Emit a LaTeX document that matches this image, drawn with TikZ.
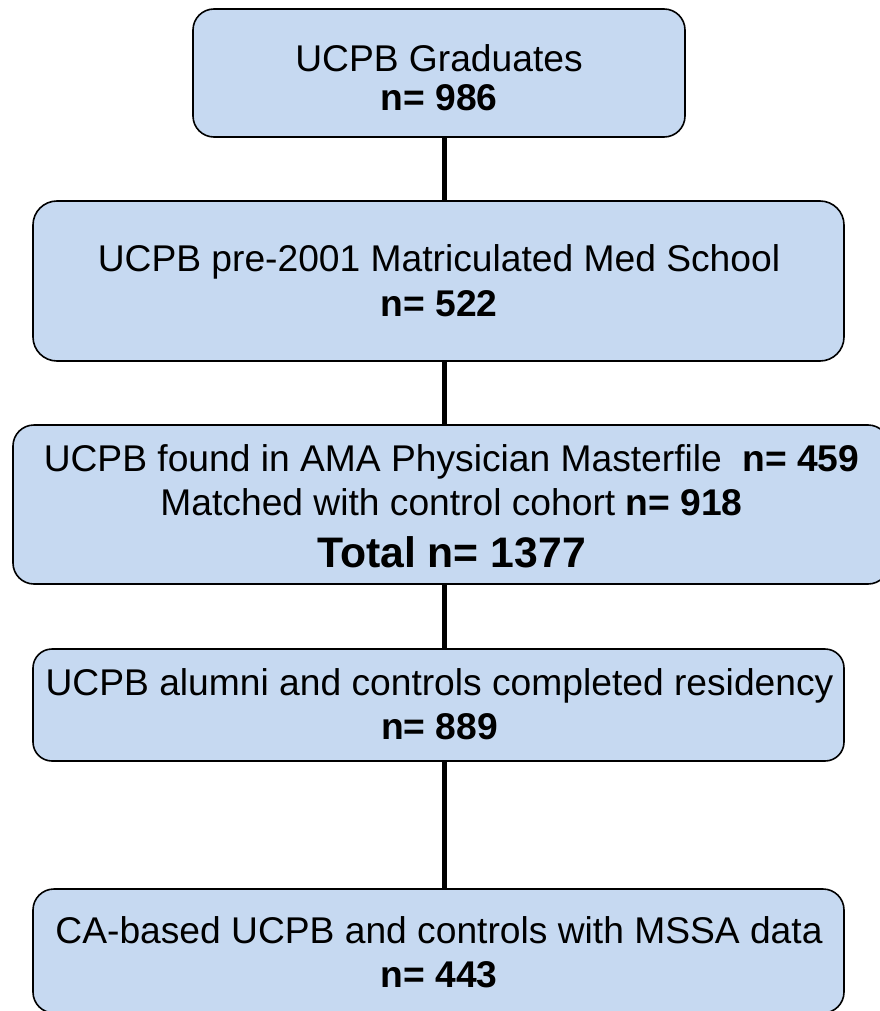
\documentclass[tikz,border=0pt]{standalone}
\usepackage{fontspec}
\setmainfont{Liberation Sans}
\definecolor{boxfill}{HTML}{C6D9F1}
\begin{document}
\begin{tikzpicture}[x=1pt,y=-1pt,
  flowbox/.style={draw=black, line width=1.6pt, fill=boxfill, rounded corners=21pt, inner sep=0pt},
  txt/.style={anchor=base, inner sep=0pt, font=\fontsize{37.2}{40}\selectfont},
  big/.style={anchor=base, inner sep=0pt, font=\fontsize{42.7}{46}\selectfont\bfseries},
  conn/.style={draw=black, line width=5pt}]
\useasboundingbox (0,0) rectangle (879,1011);
% boxes
\node[flowbox, minimum width=492pt, minimum height=128pt] (b1) at (439,73) {};
\node[flowbox, minimum width=811pt, minimum height=160pt, rounded corners=24pt] (b2) at (438.5,281) {};
\node[flowbox, minimum width=876pt, minimum height=159pt] (b3) at (451,504.5) {};
\node[flowbox, minimum width=811pt, minimum height=112pt, rounded corners=19pt] (b4) at (438.5,705) {};
\node[flowbox, minimum width=811pt, minimum height=124pt] (b5) at (438.5,951) {};
% texts
\node[txt] (t1a) at (439,72) {UCPB Graduates};
\node[txt] (t1b) at (439,111) {\bfseries n= 986};
\node[txt] (t2a) at (439,271) {UCPB pre-2001 Matriculated Med School};
\node[txt] (t2b) at (439,316) {\bfseries n= 522};
\node[txt] (t3a) at (451.5,471) {UCPB found in AMA Physician Masterfile\hspace{0.55em}\textbf{n= 459}};
\node[txt] (t3b) at (451.5,515) {Matched with control cohort \textbf{n= 918}};
\node[big] (t3c) at (451.5,567) {Total n= 1377};
\node[txt] (t4a) at (439.5,695) {UCPB alumni and controls completed residency};
\node[txt] (t4b) at (439.5,739) {\bfseries n= 889};
\node[txt] (t5a) at (439,943) {CA-based UCPB and controls with MSSA data};
\node[txt] (t5b) at (439,987) {\bfseries n= 443};
% connectors
\coordinate (lx) at (444,0);
\draw[conn] (b1.south -| lx) -- (b2.north -| lx);
\draw[conn] (b2.south -| lx) -- (b3.north -| lx);
\draw[conn] (b3.south -| lx) -- (b4.north -| lx);
\draw[conn] (b4.south -| lx) -- (b5.north -| lx);
\end{tikzpicture}
\end{document}
